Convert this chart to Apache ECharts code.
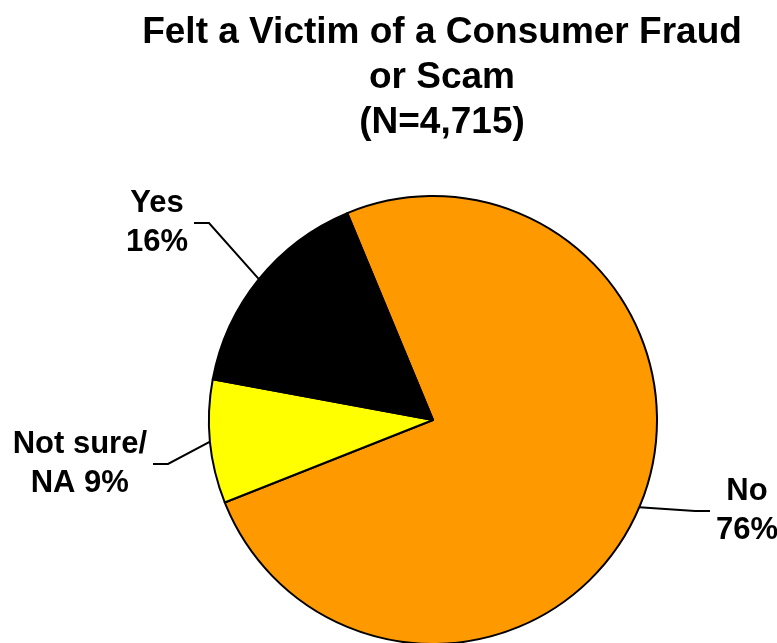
<!DOCTYPE html>
<html>
<head>
<meta charset="utf-8">
<script src="https://cdn.jsdelivr.net/npm/echarts@6/dist/echarts.min.js"></script>
<style>
  html, body { margin: 0; padding: 0; background: #fff; }
  #chart { width: 777px; height: 643px; }
</style>
</head>
<body>
<div id="chart"></div>
<script>
// slices, clockwise from the top-left edge of the orange slice
var names = ['No', 'Not sure/\nNA', 'Yes'];
var values = [76, 9, 16];
var colors = ['#ff9900', '#ffff00', '#000000'];

// where each label sits (x, y, text side) - the library draws the leader lines
var labelSpots = [[710, 511, 'left'], [153, 464, 'right'], [194, 223, 'right']];

var font = '"Liberation Sans", Arial, sans-serif';

var pieData = names.map(function (n, i) {
  return { name: n, value: values[i], itemStyle: { color: colors[i] } };
});

var chart = echarts.init(document.getElementById('chart'));
chart.setOption({
  animation: false,
  backgroundColor: '#fff',
  title: {
    text: 'Felt a Victim of a Consumer Fraud\nor Scam\n(N=4,715)',
    left: 437,
    top: 5,
    textAlign: 'center',
    textStyle: {
      fontFamily: font,
      fontWeight: 'bold',
      fontSize: 37,
      lineHeight: 45,
      color: '#000'
    }
  },
  series: [{
    type: 'pie',
    center: [433, 420],
    radius: 224,
    startAngle: 112.5,
    clockwise: true,
    avoidLabelOverlap: false,
    itemStyle: { borderColor: '#000', borderWidth: 2 },
    label: {
      show: true,
      position: 'outside',
      formatter: function (p) {
        var sep = p.name.indexOf('\n') >= 0 ? ' ' : '\n';
        var lines = (p.name + sep + p.value + '%').split('\n');
        return lines.map(function (s) { return '{c|' + s + '}'; }).join('\n');
      },
      padding: [0, 6],
      backgroundColor: 'rgba(255,255,255,0)',
      rich: {
        c: {
          align: 'center',
          fontFamily: font,
          fontWeight: 'bold',
          fontSize: 31,
          lineHeight: 39,
          color: '#000'
        }
      }
    },
    labelLine: {
      show: true,
      smooth: false,
      length: 20,
      length2: 15,
      lineStyle: { color: '#000', width: 2 }
    },
    labelLayout: function (params) {
      var s = labelSpots[params.dataIndex];
      return { x: s[0], y: s[1], align: s[2], verticalAlign: 'middle' };
    },
    emphasis: { disabled: true },
    data: pieData
  }]
});
</script>
</body>
</html>
